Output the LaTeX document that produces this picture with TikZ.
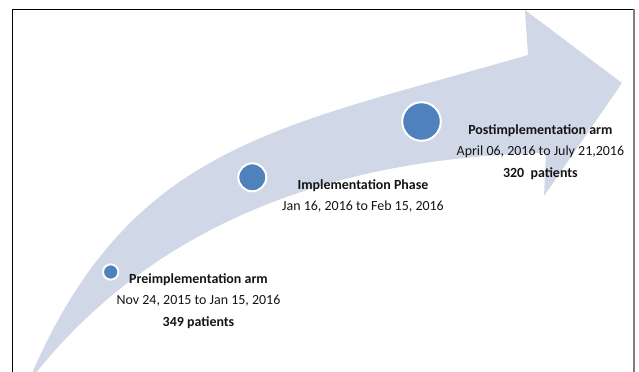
\documentclass[tikz,border=0pt]{standalone}
\usepackage{fontspec}
\setmainfont{Carlito}
\definecolor{arrowfill}{HTML}{D0D8E8}
\definecolor{dotblue}{HTML}{4F81BD}
\definecolor{framegray}{HTML}{7F7F7F}
\definecolor{textdark}{HTML}{141414}
\begin{document}
\begin{tikzpicture}[x=1bp,y=-1bp,
  dot/.style={circle,fill=dotblue,draw=white,line width=2bp,inner sep=0pt},
  lbl/.style={align=center,inner sep=0pt,text=textdark,font=\fontsize{14}{21.5}\selectfont}]
\useasboundingbox (0,0) rectangle (639,371);
\clip (0,0) rectangle (639,371);
% frame
\draw[black,line width=1bp] (12.3,372) -- (12.3,9.3) -- (634,9.3);
\draw[framegray,line width=2bp] (634.3,8.8) -- (634.3,372);
% curved arrow
\fill[arrowfill] (31.7,374) .. controls (131.7,144) and (278,127.5) .. (528,55)
  -- (525,10) -- (622,83) -- (544,196) -- (546,153)
  .. controls (420,156) and (190,180) .. (35,374) -- cycle;
% dots
\node[dot,minimum size=15.4bp] (c1) at (110.7,272) {};
\node[dot,minimum size=28bp] (c2) at (252.3,177.3) {};
\node[dot,minimum size=38.6bp] (c3) at (421.5,121.5) {};
% labels
\node[lbl] (l1) at (198.5,301) {\textbf{Preimplementation arm}\\Nov 24, 2015 to Jan 15, 2016\\\textbf{349 patients}};
\node[lbl] (l2) at (363,196) {\textbf{Implementation Phase}\\Jan 16, 2016 to Feb 15, 2016};
\node[lbl] (l3) at (540.4,152) {\textbf{Postimplementation arm}\\April 06, 2016 to July 21,2016\\\textbf{320\ \ patients}};
\end{tikzpicture}
\end{document}
